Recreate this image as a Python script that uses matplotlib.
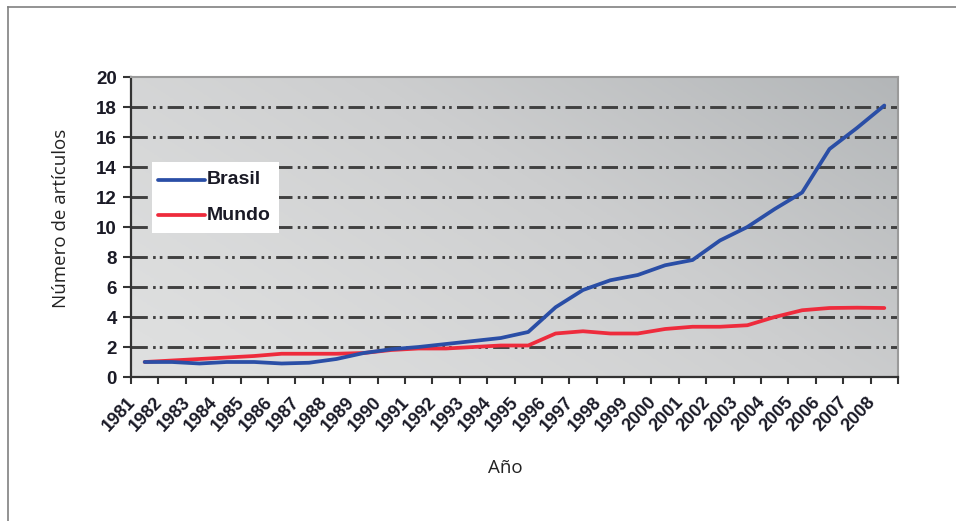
import matplotlib
matplotlib.use("Agg")
import matplotlib.pyplot as plt
import numpy as np
from matplotlib.colors import LinearSegmentedColormap
from matplotlib.patches import Rectangle
from matplotlib.lines import Line2D
import matplotlib.transforms as mtransforms

years = [str(y) for y in range(1981, 2009)]
brasil = [1.0, 1.0, 0.9, 1.0, 1.0, 0.9, 0.95, 1.2, 1.6, 1.85, 2.0, 2.2, 2.4, 2.6,
          3.0, 4.65, 5.8, 6.45, 6.8, 7.45, 7.8, 9.1, 10.0, 11.2, 12.3, 15.2, 16.6, 18.1]
mundo = [1.0, 1.1, 1.2, 1.3, 1.4, 1.55, 1.55, 1.55, 1.6, 1.8, 1.9, 1.9, 2.0, 2.1,
         2.1, 2.9, 3.05, 2.9, 2.9, 3.2, 3.35, 3.35, 3.45, 4.0, 4.45, 4.6, 4.62, 4.6]
yticks = [0, 2, 4, 6, 8, 10, 12, 14, 16, 18, 20]
series_names = ["Brasil", "Mundo"]
series_colors = ["#2a4ea6", "#ee2b3c"]

W, H = 956, 521
fig = plt.figure(figsize=(W / 100, H / 100), dpi=100)
fig.patch.set_facecolor("white")


def fx(px):
    return px / W


def fy(py):
    return 1 - py / H


# outer frame
fig.add_artist(Line2D([fx(8), fx(8)], [0, fy(7)], color="#808080", lw=1.2,
                      transform=fig.transFigure))
fig.add_artist(Line2D([fx(8), 1], [fy(7), fy(7)], color="#808080", lw=1.2,
                      transform=fig.transFigure))

L, R, T, B = 131, 898, 77, 377
ax = fig.add_axes([fx(L), fy(B), (R - L) / W, (B - T) / H])

# gradient background
nx, ny = 200, 100
gx, gy = np.meshgrid(np.linspace(0, 1, nx), np.linspace(0, 1, ny))
g = (gx * 0.62 + gy * 0.38) ** 1.25
cmap = LinearSegmentedColormap.from_list("bg", ["#dfe0e0", "#cdcecf", "#b3b6b8"])
ax.imshow(g, extent=[0, 1, 0, 1], origin="lower", transform=ax.transAxes,
          cmap=cmap, aspect="auto", zorder=0)

x = np.arange(len(years))
ax.set_xlim(-0.5, len(years) - 0.5)
ax.set_ylim(0, 20)

# gridlines
for yv in yticks[1:-1]:
    ax.axhline(yv, color="#404040", lw=2.1,
               linestyle=(0, (5.6, 1.8, 0.9, 1.4, 0.9, 1.8)), zorder=1)

lb, = ax.plot(x, brasil, color=series_colors[0], lw=2.7, zorder=3,
              solid_capstyle="round", solid_joinstyle="round")
lm, = ax.plot(x, mundo, color=series_colors[1], lw=2.7, zorder=2,
              solid_capstyle="round", solid_joinstyle="round")

txtcol = "#1a1a26"
ax.set_yticks(yticks)
ax.set_yticklabels([str(v) for v in yticks], fontfamily="Liberation Sans",
                   fontweight="bold", fontsize=13.5, color=txtcol)
ax.set_xticks(np.arange(-0.5, len(years), 1.0))
ax.set_xticklabels([])
ax.set_xticks(x, minor=True)
ax.set_xticklabels(years, minor=True, rotation=47, ha="right", va="center",
                   rotation_mode="anchor", fontfamily="Liberation Sans",
                   fontweight="bold", fontsize=13, color=txtcol)
ax.tick_params(axis="x", which="minor", length=0, pad=16)
ax.tick_params(axis="x", which="major", length=5, width=1.5, color="#333333",
               direction="out")
ax.tick_params(axis="y", length=6, width=1.5, color="#333333", direction="out", pad=4)

for lab in ax.get_xticklabels(minor=True):
    lab.set_transform(lab.get_transform() +
                      mtransforms.ScaledTranslation(-0.12, 0, fig.dpi_scale_trans))

for s in ["left", "bottom"]:
    ax.spines[s].set_color("#333333")
    ax.spines[s].set_linewidth(1.6)
for s in ["top", "right"]:
    ax.spines[s].set_color("#9a9a9a")
    ax.spines[s].set_linewidth(1.5)

# legend (manual, white box without border)
fig.add_artist(Rectangle((fx(152), fy(233)), (279 - 152) / W, (233 - 162) / H,
                         transform=fig.transFigure, facecolor="white",
                         edgecolor="none", zorder=5))
for i, (name, col) in enumerate(zip(series_names, series_colors)):
    yy = 180 + 35 * i
    fig.add_artist(Line2D([fx(158), fx(205)], [fy(yy), fy(yy)], color=col, lw=2.7,
                          transform=fig.transFigure, zorder=6,
                          solid_capstyle="round"))
    fig.text(fx(207), fy(yy), name, ha="left", va="center", fontsize=14,
             fontfamily="Liberation Sans", fontweight="bold", color=txtcol, zorder=6)

fig.text(fx(61), fy(218), "Número de artículos", rotation=90, ha="center",
         va="center", fontsize=13.5, fontfamily="Open Sans", color="#222222")
fig.text(fx(505), fy(468), "Año", ha="center", va="center", fontsize=13.5,
         fontfamily="Open Sans", color="#222222")

fig.savefig("out.png", dpi=100, facecolor="white")
